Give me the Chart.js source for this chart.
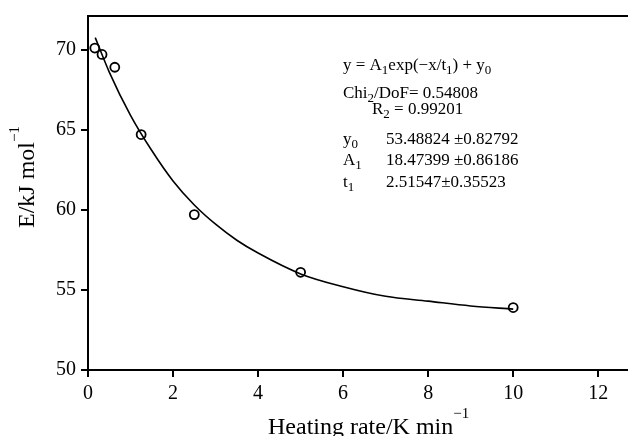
<!DOCTYPE html>
<html>
<head>
<meta charset="utf-8">
<script src="https://cdn.jsdelivr.net/npm/chart.js@4"></script>
<style>
  body { margin: 0; background: #fff; }
</style>
</head>
<body>
<canvas id="fitChart" width="628" height="436"></canvas>
<script>
// measured points
const rates = [0.16, 0.33, 0.63, 1.25, 2.5, 5, 10];
const energies = [70.1, 69.7, 68.9, 64.7, 59.7, 56.1, 53.9];

// fitted curve
const fitX = [0.17, 0.5, 1, 1.5, 2, 2.5, 3, 3.5, 4, 5, 6, 7, 8, 9, 10];
const fitY = [70.75, 68.6, 65.9, 63.7, 61.8, 60.3, 59.1, 58.1, 57.3, 56.0, 55.2, 54.6, 54.3, 54.0, 53.8];

const xTicks = [0, 2, 4, 6, 8, 10, 12];
const yTicks = [50, 55, 60, 65, 70];

// fit box, each line is a list of [text, isSubscript]
const fitLines = [
  [['y = A', 0], ['1', 1], ['exp(\u2212x/t', 0], ['1', 1], [') + y', 0], ['0', 1]],
  [['Chi', 0], ['2', 1], ['/DoF= 0.54808', 0]],
  [['R', 0], ['2', 1], [' = 0.99201', 0]],
  [['y', 0], ['0', 1]],
  [['A', 0], ['1', 1]],
  [['t', 0], ['1', 1]]
];
const fitValues = ['53.48824 \u00b10.82792', '18.47399 \u00b10.86186', '2.51547\u00b10.35523'];

const serif = '"Liberation Serif", "DejaVu Serif", serif';

function drawRuns(ctx, runs, x, y) {
  runs.forEach(([txt, sub]) => {
    ctx.font = (sub ? '13px ' : '17px ') + serif;
    ctx.fillText(txt, x, sub ? y + 4 : y);
    x += ctx.measureText(txt).width;
  });
}

const extras = {
  id: 'extras',
  afterDraw(chart) {
    const ctx = chart.ctx;
    const a = chart.chartArea;
    ctx.save();
    // top frame line
    ctx.strokeStyle = '#000';
    ctx.lineWidth = 2;
    ctx.beginPath();
    ctx.moveTo(a.left - 1, a.top);
    ctx.lineTo(a.right, a.top);
    ctx.stroke();

    ctx.fillStyle = '#000';
    ctx.textBaseline = 'alphabetic';
    ctx.textAlign = 'left';

    // fit equation and parameters
    drawRuns(ctx, fitLines[0], 343, 70);
    drawRuns(ctx, fitLines[1], 343, 98);
    drawRuns(ctx, fitLines[2], 372, 114);
    drawRuns(ctx, fitLines[3], 343, 144);
    drawRuns(ctx, fitLines[4], 343, 165);
    drawRuns(ctx, fitLines[5], 343, 187);
    ctx.font = '17px ' + serif;
    fitValues.forEach((v, i) => ctx.fillText(v, 386, [144, 165, 187][i]));

    // x axis title
    ctx.font = '24px ' + serif;
    const xt = 'Heating rate/K min';
    let w = ctx.measureText(xt).width;
    ctx.fillText(xt, 268, 434);
    ctx.font = '15px ' + serif;
    ctx.fillText('\u22121', 268 + w, 418);

    // y axis title
    ctx.translate(34, 228);
    ctx.rotate(-Math.PI / 2);
    ctx.font = '24px ' + serif;
    const yt = 'E/kJ mol';
    w = ctx.measureText(yt).width;
    ctx.fillText(yt, 0, 0);
    ctx.font = '15px ' + serif;
    ctx.fillText('\u22121', w, -15);
    ctx.restore();
  }
};

const ctx = document.getElementById('fitChart').getContext('2d');
const fitChart = new Chart(ctx, {
  type: 'scatter',
  data: {
    datasets: [{
      label: 'fit',
      type: 'line',
      data: fitX.map((x, i) => ({ x: x, y: fitY[i] })),
      borderColor: '#000',
      borderWidth: 1.6,
      pointRadius: 0,
      cubicInterpolationMode: 'monotone',
      fill: false
    }, {
      label: 'E',
      data: rates.map((x, i) => ({ x: x, y: energies[i] })),
      borderColor: '#000',
      backgroundColor: 'rgba(0,0,0,0)',
      borderWidth: 1.8,
      pointRadius: 4.5,
      pointStyle: 'circle'
    }]
  },
  options: {
    responsive: false,
    animation: false,
    layout: { autoPadding: false, padding: { top: 16, right: 0, left: 0, bottom: 0 } },
    plugins: {
      legend: { display: false },
      tooltip: { enabled: false }
    },
    scales: {
      x: {
        type: 'linear',
        min: 0,
        max: 12.7,
        afterBuildTicks: s => { s.ticks = xTicks.map(v => ({ value: v })); },
        afterFit: s => { s.height = 66; s.paddingRight = 0; s.paddingLeft = 0; },
        border: { color: '#000', width: 2 },
        grid: { drawOnChartArea: false, color: '#000', lineWidth: 2, tickLength: 7 },
        ticks: { color: '#000', padding: 5, font: { family: serif, size: 20 } }
      },
      y: {
        min: 50,
        max: 72.1,
        afterBuildTicks: s => { s.ticks = yTicks.map(v => ({ value: v })); },
        afterFit: s => { s.width = 88; s.paddingTop = 0; s.paddingBottom = 0; },
        border: { color: '#000', width: 2 },
        grid: { drawOnChartArea: false, color: '#000', lineWidth: 2, tickLength: 7 },
        ticks: { color: '#000', padding: 5, font: { family: serif, size: 20 } }
      }
    }
  },
  plugins: [extras]
});
</script>
</body>
</html>
